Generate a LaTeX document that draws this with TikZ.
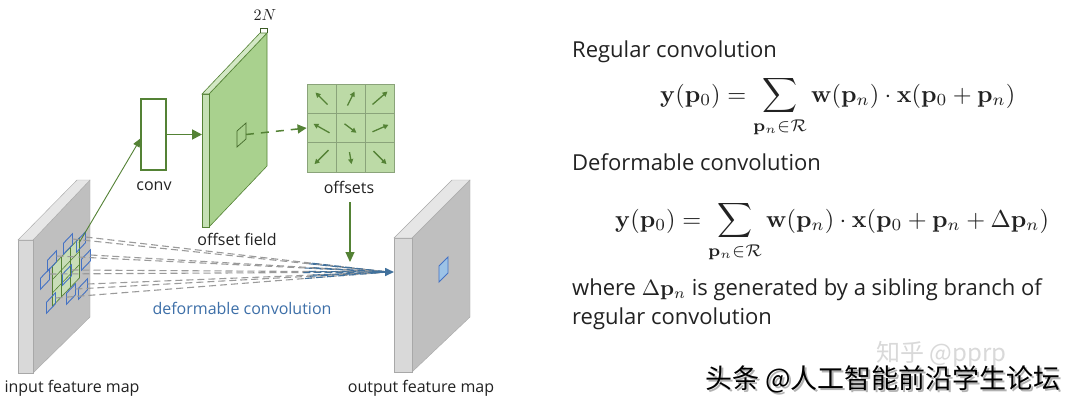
\documentclass[tikz,border=0pt]{standalone}
\usepackage{graphicx}
\usepackage[no-math]{fontspec}
\setmainfont{Open Sans}
\newfontfamily\cjk{Noto Sans CJK SC}
\usetikzlibrary{arrows.meta,calc}
\definecolor{dg}{HTML}{548235}
\definecolor{facegreen}{HTML}{A9D18E}
\definecolor{stripgreen}{HTML}{C5E0B4}
\definecolor{topgreen}{HTML}{D3E8C5}
\definecolor{gridgreen}{HTML}{BCDAA6}
\definecolor{gridline}{HTML}{8AA37A}
\definecolor{facegray}{HTML}{BFBFBF}
\definecolor{stripgray}{HTML}{D9D9D9}
\definecolor{topgray}{HTML}{E6E6E6}
\definecolor{edgegray}{HTML}{A8A8A8}
\definecolor{fangray}{HTML}{9A9A9A}
\definecolor{lineblue}{HTML}{41719C}
\definecolor{boxblue}{HTML}{4472C4}
\definecolor{sqfill}{HTML}{9DC3E6}
\definecolor{lblblue}{HTML}{3D6FA8}
\definecolor{ink}{HTML}{222222}
\tikzset{
  lbl/.style={font=\fontsize{16}{19}\selectfont, text=ink, inner sep=0, anchor=base},
  rtxt/.style={font=\fontsize{22}{26}\selectfont, text=ink, inner sep=0, anchor=base west},
  eqn/.style={text=ink, inner sep=0, anchor=base west},
  fan/.style={draw=fangray, line width=1.1, dash pattern=on 7pt off 4pt},
  fanb/.style={draw=lineblue, line width=1.1, dash pattern=on 7pt off 4pt},
  sbox/.style={draw=boxblue, line width=0.9},
  garrow/.style={dg, line width=1.3, -{Triangle[length=5pt,width=5pt]}},
  grayslab/.style={draw=edgegray, line width=0.4},
}
\begin{document}
\begin{tikzpicture}[x=1pt,y=-1pt]
\useasboundingbox (0,0) rectangle (1080,407);
\fill[white] (0,0) rectangle (1080,407);

% ---------- input feature map ----------
\filldraw[grayslab, fill=facegray] (33,240) -- (90,180) -- (90,317) -- (33,373) -- cycle;
\filldraw[grayslab, fill=stripgray] (18,240) rectangle (33,373);
\filldraw[grayslab, fill=topgray] (18,240) -- (33,240) -- (90,180) -- (77,180) -- cycle;

% regular grid (green)
\begin{scope}[shift={(66,272)}, yslant=1.05]
  \fill[gridgreen!80!white, opacity=0.9] (-13.5,-20) rectangle (13.5,20);
  \draw[dg, line width=0.6] (-13.5,-20) rectangle (13.5,20);
  \foreach \u in {-4.5,4.5} \draw[dg, line width=0.6] (\u,-20) -- (\u,20);
  \foreach \v in {-6.67,6.67} \draw[dg, line width=0.6] (-13.5,\v) -- (13.5,\v);
\end{scope}

% sampling boxes
\foreach \cx/\cy in {68/244, 81/242, 52/261, 67/275, 86/260, 45/279, 83/289, 71/294, 51/303}{
  \begin{scope}[shift={(\cx,\cy)}, yslant=1.05]
    \draw[sbox] (-4.5,-5.5) rectangle (4.5,5.5);
  \end{scope}
}

% ---------- output feature map ----------
\filldraw[grayslab, fill=facegray] (412,238) -- (470,180) -- (470,317) -- (412,372) -- cycle;
\filldraw[grayslab, fill=stripgray] (394,238) rectangle (412,372);
\filldraw[grayslab, fill=topgray] (394,238) -- (412,238) -- (470,180) -- (452,180) -- cycle;
\filldraw[draw=boxblue, fill=sqfill, line width=0.9] (439,266) -- (448,257) -- (448,273) -- (439,282) -- cycle;

% ---------- fan of dashed lines ----------
\coordinate (merge) at (388,272);
\foreach \x/\y [count=\i] in {72.5/239, 85.5/237, 56.5/256, 71.5/270, 90.5/255, 49.5/274, 87.5/284, 75.5/289, 55.5/298}{
  \coordinate (s\i) at (\x,\y);
  \draw[fan] (s\i) -- (merge);
  \draw[fanb] ($(s\i)!0.75!(merge)$) -- (merge);
}
\coordinate (bstart) at (372,272);
\coordinate (omap) at (394,272);
\draw[lineblue, line width=1.6, -{Triangle[length=9pt,width=8pt]}] (bstart) -- (omap);
\node[lbl, text=lblblue] (dc) at (242,314) {deformable convolution};

% ---------- conv ----------
\node[draw=dg, line width=1.2, fill=white, minimum width=25pt, minimum height=71pt, inner sep=0] (conv) at (153.5,134.5) {};
\node[lbl] (convl) at (154,190) {conv};
\coordinate (src) at (79,243);
\coordinate (convin) at (141,138);
\draw[dg, line width=0.9, -{Triangle[length=9pt,width=7pt]}] (src) -- (convin);

% ---------- offset field ----------
\filldraw[draw=dg, line width=0.6, fill=facegreen] (209,94) -- (267,33) -- (267,166) -- (209,227) -- cycle;
\filldraw[draw=dg, line width=0.6, fill=stripgreen] (202,94) rectangle (209,227);
\filldraw[draw=dg, line width=0.6, fill=topgreen] (202,94) -- (209,94) -- (267,33) -- (260,33) -- cycle;
\draw[dg!70!black, line width=0.7] (260,33) -- (260,28) -- (267,28) -- (267,33);
\node[text=ink, inner sep=0] (twoN) at (265,15) {\scalebox{1.6}{$2N$}};
\filldraw[draw=dg!80!black, line width=0.7, fill=facegreen] (237,131) -- (246,123) -- (246,139) -- (237,147) -- cycle;
\node[lbl] (ofl) at (237,245) {offset field};
\coordinate (fieldin) at (202,134.5);
\draw[dg, line width=1.8, -{Triangle[length=10pt,width=10pt]}] (conv.east) -- (fieldin);

% ---------- offsets grid ----------
\node[fill=gridgreen, draw=gridline, line width=0.8, minimum width=87pt, minimum height=88pt, inner sep=0] (grid) at (350.5,128) {};
\foreach \gx in {336,365} \draw[gridline, line width=0.8] (\gx,84) -- (\gx,172);
\foreach \gy in {113.3,142.7} \draw[gridline, line width=0.8] (307,\gy) -- (394,\gy);
\coordinate (fsq) at (246,134.5);
\draw[dg, line width=1.5, dash pattern=on 8pt off 7pt, -{Triangle[length=9pt,width=9pt]}] (fsq) -- (grid.west);
% arrows in cells
\foreach \r/\c/\ax/\ay/\bx/\by in {
  0/0/6/6/-6/-6, 0/1/-3/7/4/-7, 0/2/-7/6/8/-7,
  1/0/8/5/-8/-4, 1/1/-6/-4/6/5, 1/2/-7/4/9/-3,
  2/0/7/-7/-7/7, 2/1/-1/-5/1/7, 2/2/-6/-6/7/7}{
  \draw[garrow] ({321.5+29*\c+\ax},{98.5+29.3*\r+\ay}) -- ({321.5+29*\c+\bx},{98.5+29.3*\r+\by});
}
\node[lbl] (offl) at (349,193) {offsets};
\coordinate (offtop) at (350,202);
\coordinate (offend) at (350,262);
\draw[dg, line width=1.1, -{Triangle[length=10pt,width=9pt]}] (offtop) -- (offend);

% ---------- labels ----------
\node[lbl] (inl) at (72,392) {input feature map};
\node[lbl] (outl) at (421,392) {output feature map};

% ---------- right panel ----------
\node[rtxt] (reg) at (572,57) {Regular convolution};
\node[eqn] (eq1) at (660,102) {\scalebox{2.43}{$\displaystyle \mathbf{y}(\mathbf{p}_0) = \sum_{\mathbf{p}_n\in\mathcal{R}} \mathbf{w}(\mathbf{p}_n)\cdot\mathbf{x}(\mathbf{p}_0+\mathbf{p}_n)$}};
\node[rtxt] (def) at (572,170) {Deformable convolution};
\node[eqn] (eq2) at (615,227) {\scalebox{2.43}{$\displaystyle \mathbf{y}(\mathbf{p}_0) = \sum_{\mathbf{p}_n\in\mathcal{R}} \mathbf{w}(\mathbf{p}_n)\cdot\mathbf{x}(\mathbf{p}_0+\mathbf{p}_n+\Delta\mathbf{p}_n)$}};
\node[rtxt] (wh1) at (572,295) {where \scalebox{2.2}{\normalsize$\Delta\mathbf{p}_n$} is generated by a sibling branch of};
\node[rtxt] (wh2) at (572,324) {regular convolution};

% ---------- watermarks ----------
\node[anchor=base west, font=\cjk\fontsize{24}{28}\selectfont, text=black!15, inner sep=0] (zh) at (876,361) {知乎 @pprp};
\node[anchor=base west, font=\cjk\fontsize{27}{30}\selectfont, text=black!30, inner sep=0] (ttsh) at (707,390) {头条 @人工智能前沿学生论坛};
\node[anchor=base west, font=\cjk\fontsize{27}{30}\selectfont, text=black, inner sep=0] (tt) at (705,388) {头条 @人工智能前沿学生论坛};
\end{tikzpicture}
\end{document}
